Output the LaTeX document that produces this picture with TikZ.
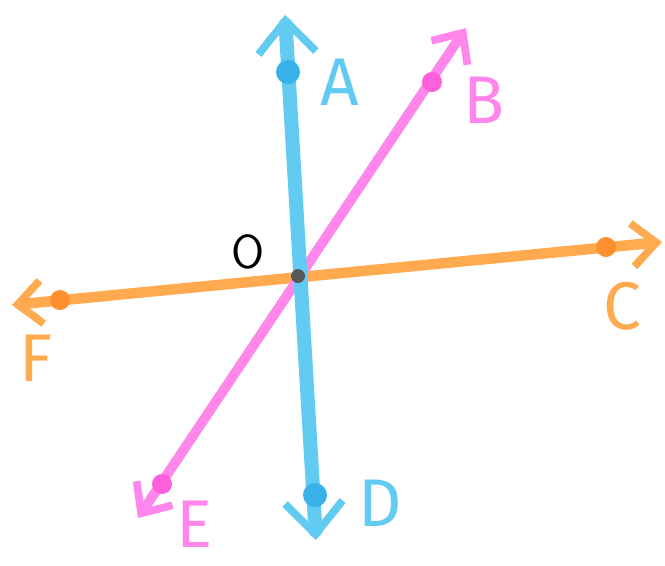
\documentclass[tikz,border=0pt]{standalone}
\usepackage{fontspec}
\setmainfont{Fira Sans}
\usepackage{tikz}
\usetikzlibrary{arrows.meta}
\definecolor{RayBlue}{HTML}{62CBF2}
\definecolor{DotBlue}{HTML}{38B2E8}
\definecolor{RayPink}{HTML}{FF86EA}
\definecolor{DotPink}{HTML}{FF5FDA}
\definecolor{RayOrange}{HTML}{FFAA4E}
\definecolor{DotOrange}{HTML}{FF9030}

\begin{document}
\begin{tikzpicture}[
  x=0.25mm, y=-0.25mm,
  ray/.style={line cap=round,
    {Straight Barb[length=#1,width=1.8*#1,line width=5.5pt 0]}-{Straight Barb[length=#1,width=1.8*#1,line width=5.5pt 0]}},
  pt/.style={circle,inner sep=0pt,minimum size=#1},
  lbl/.style={font=\fontsize{48}{48}\selectfont,text=#1,inner sep=0pt}
]
  \useasboundingbox (0,0) rectangle (665,565);

  % ray ends
  \coordinate (Aend) at (285,15);
  \coordinate (Dend) at (316,540);
  \coordinate (Bend) at (466,28);
  \coordinate (Eend) at (138,518);
  \coordinate (Fend) at (12,305);
  \coordinate (Cend) at (662,242);
  \coordinate (O) at (298,276);

  \draw[ray=6mm,RayOrange,line width=7.5pt] (Fend) -- (Cend);
  \draw[ray=6mm,RayPink,line width=7pt] (Eend) -- (Bend);
  \draw[ray=8mm,RayBlue,line width=10pt] (Dend) -- (Aend);

  % points
  \node[pt=6mm,fill=DotBlue] (A) at (288,72) {};
  \node[pt=6mm,fill=DotBlue] (D) at (315,495) {};
  \node[pt=5mm,fill=DotPink] (B) at (432,82) {};
  \node[pt=5mm,fill=DotPink] (E) at (162,484) {};
  \node[pt=5mm,fill=DotOrange] (C) at (606,247) {};
  \node[pt=5mm,fill=DotOrange] (F) at (60,300) {};
  \node[pt=3.5mm,fill=black!65] (Odot) at (O) {};

  % labels
  \node[lbl=RayBlue] (Alab) at (340,82) {A};
  \node[lbl=RayBlue] (Dlab) at (380,503) {D};
  \node[lbl=RayPink] (Blab) at (484,100) {B};
  \node[lbl=RayPink] (Elab) at (195,524) {E};
  \node[lbl=RayOrange] (Clab) at (622,306) {C};
  \node[lbl=RayOrange] (Flab) at (36,358) {F};
  \node[font=\fontsize{34}{34}\selectfont\sffamily\fontseries{l}] (Olab) at (248,252) {O};
\end{tikzpicture}
\end{document}
